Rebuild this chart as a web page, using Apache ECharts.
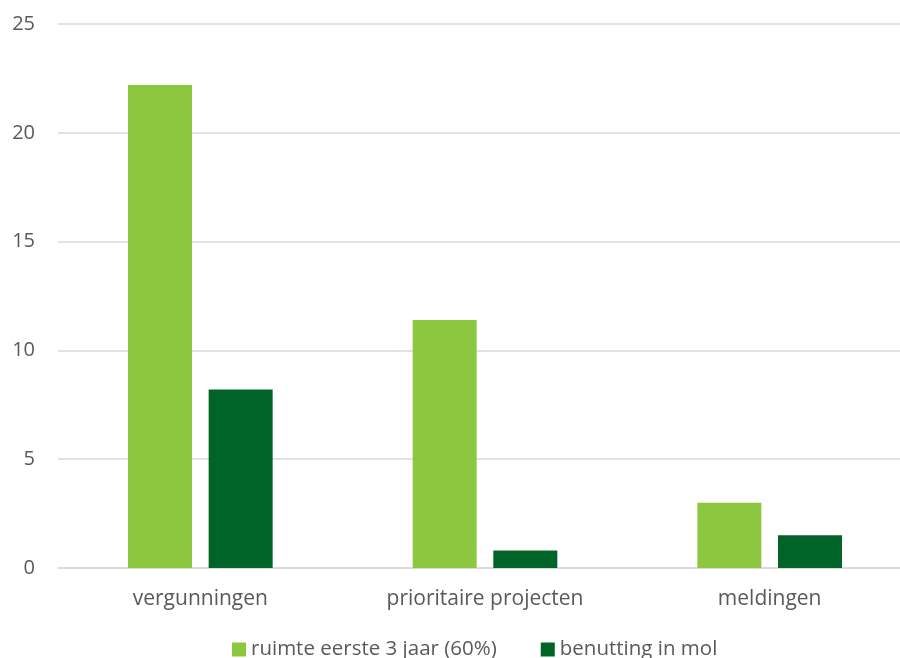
<!DOCTYPE html>
<html>
<head>
<meta charset="utf-8">
<script src="https://cdn.jsdelivr.net/npm/echarts@6/dist/echarts.min.js"></script>
<style>
  html, body { margin: 0; padding: 0; background: #fff; }
  #main { width: 900px; height: 658px; }
</style>
</head>
<body>
<div id="main"></div>
<script>
const categories = ["vergunningen", "prioritaire projecten", "meldingen"];
const seriesNames = ["ruimte eerste 3 jaar (60%)", "benutting in mol"];
const ruimteValues = [22.2, 11.4, 3.0];
const benuttingValues = [8.2, 0.8, 1.5];

const chart = echarts.init(document.getElementById("main"), null, { renderer: "canvas" });

const textColor = "#595959";
const fontFamily = "'Open Sans', 'Noto Sans', sans-serif";

const option = {
  animation: false,
  textStyle: { fontFamily: fontFamily },
  legend: {
    bottom: -7,
    left: 227,
    itemWidth: 14,
    itemHeight: 14,
    itemGap: 44,
    icon: "rect",
    textStyle: { color: textColor, fontSize: 20.5, fontFamily: fontFamily },
    data: seriesNames,
  },
  grid: {
    left: 58,
    width: 854,
    top: 24,
    bottom: 90,
    outerBoundsMode: "none",
    containLabel: false,
  },
  xAxis: {
    type: "category",
    data: categories,
    axisLine: { lineStyle: { color: "#d9d9d9", width: 1.5 } },
    axisTick: { show: false },
    axisLabel: { color: textColor, fontSize: 21, margin: 21, fontFamily: fontFamily },
  },
  yAxis: {
    type: "value",
    min: 0,
    max: 25,
    interval: 5,
    axisLine: { show: false },
    axisTick: { show: false },
    splitLine: { lineStyle: { color: "#d9d9d9", width: 1.5 } },
    axisLabel: { color: textColor, fontSize: 20, margin: 23, fontFamily: fontFamily },
  },
  series: [
    {
      name: seriesNames[0],
      type: "bar",
      data: ruimteValues,
      barWidth: 64,
      barGap: "26%",
      itemStyle: { color: "#8DC63F" },
    },
    {
      name: seriesNames[1],
      type: "bar",
      data: benuttingValues,
      barWidth: 64,
      itemStyle: { color: "#006428" },
    },
  ],
};

chart.setOption(option, true);
</script>
</body>
</html>
